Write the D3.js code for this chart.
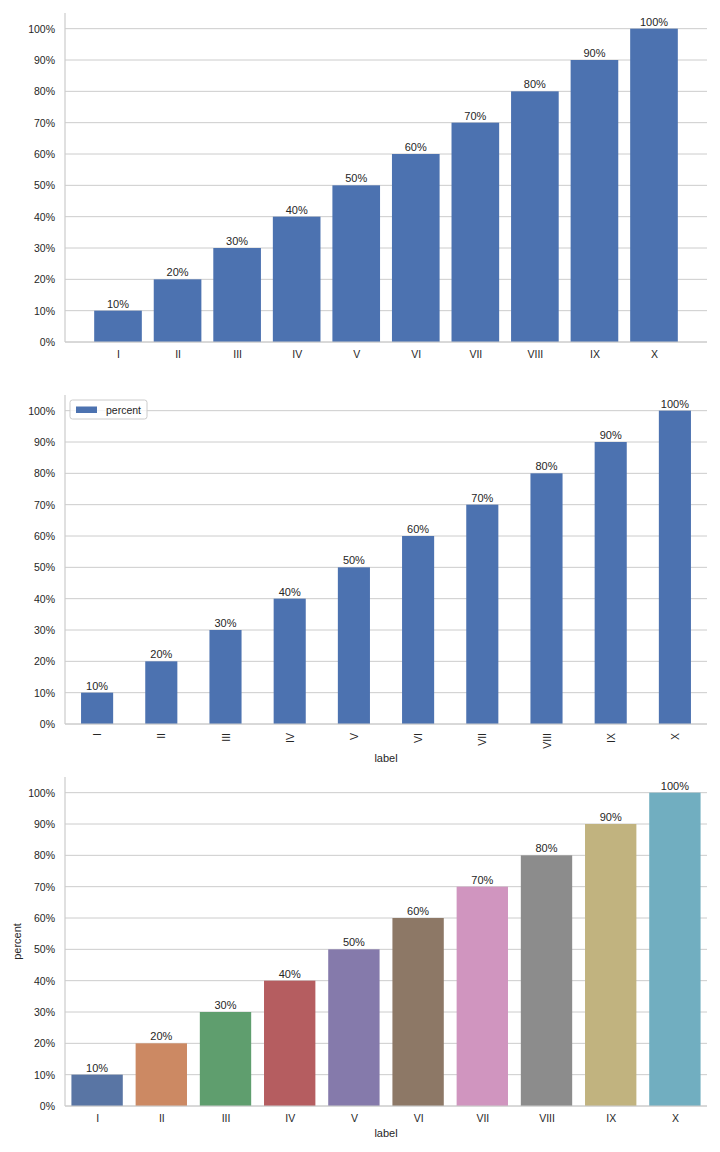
<!DOCTYPE html>
<html><head><meta charset="utf-8">
<script src="https://cdn.jsdelivr.net/npm/d3@7/dist/d3.min.js"></script>
<style>body{margin:0;background:#fff}svg{display:block}text{font-family:"Liberation Sans",Arial,sans-serif;fill:#262626}</style>
</head><body>
<script>
const labels = ["I","II","III","IV","V","VI","VII","VIII","IX","X"];
const percent = [10,20,30,40,50,60,70,80,90,100];
const yTicks = [0,10,20,30,40,50,60,70,80,90,100];
const barColor = "#4C72B0";
const palette = ["#5975a4","#cc8963","#5f9e6e","#b55d60","#857aab","#8d7866","#d095bf","#8c8c8c","#c1b37f","#71aec0"];

const W = 720, H = 1152;
const svg = d3.select("body").append("svg").attr("width", W).attr("height", H);
const left = 65, right = 707;
const panels = [
  {top: 13, bottom: 342, kind: "mpl"},
  {top: 395, bottom: 724, kind: "pandas"},
  {top: 777, bottom: 1106, kind: "sns"}
];

panels.forEach(p => {
  const g = svg.append("g");
  const y = d3.scaleLinear().domain([0,105]).range([p.bottom, p.top]);
  let x, bw;
  if (p.kind === "mpl") {
    x = d3.scaleLinear().domain([-0.89, 9.89]).range([left, right]);
    bw = x(0.8) - x(0);
  } else {
    x = d3.scaleLinear().domain([-0.5, 9.5]).range([left, right]);
    bw = (x(1) - x(0)) * (p.kind === "pandas" ? 0.5 : 0.8);
  }
  // grid
  g.selectAll(".grid").data(yTicks).join("line")
    .attr("x1", left).attr("x2", right)
    .attr("y1", d => y(d)).attr("y2", d => y(d))
    .attr("stroke", "#cccccc").attr("stroke-width", 1);
  // y tick labels
  const yAxis = d3.axisLeft(y).tickValues(yTicks).tickFormat(d => d + "%").tickSize(0).tickPadding(10);
  const ya = g.append("g").attr("transform", `translate(${left},0)`).call(yAxis);
  ya.select(".domain").remove();
  ya.selectAll("text").style("font-size", "10.5px").attr("fill", "#262626").style("font-family", '"Liberation Sans",Arial,sans-serif');
  // bars
  g.selectAll(".bar").data(percent).join("rect")
    .attr("x", (d,i) => x(i) - bw/2).attr("width", bw)
    .attr("y", d => y(d)).attr("height", d => p.bottom - y(d))
    .attr("fill", (d,i) => p.kind === "sns" ? palette[i] : barColor);
  // bar labels
  g.selectAll(".bl").data(percent).join("text")
    .attr("x", (d,i) => x(i)).attr("y", d => y(d) - 3)
    .attr("text-anchor", "middle").style("font-size", "11px")
    .text(d => d + "%");
  // spines
  g.append("line").attr("x1", left).attr("x2", left).attr("y1", p.top).attr("y2", p.bottom).attr("stroke", "#cccccc").attr("stroke-width", 1.2);
  g.append("line").attr("x1", left).attr("x2", right).attr("y1", p.bottom).attr("y2", p.bottom).attr("stroke", "#cccccc").attr("stroke-width", 1.2);
  // x tick labels
  const xAxis = d3.axisBottom(x).tickValues(d3.range(labels.length)).tickFormat(i => labels[i]).tickSize(0);
  const xa = g.append("g").attr("transform", `translate(0,${p.bottom})`).call(xAxis);
  xa.select(".domain").remove();
  xa.selectAll("text").style("font-size", "10.5px").attr("fill", "#262626").style("font-family", '"Liberation Sans",Arial,sans-serif');
  if (p.kind === "pandas") {
    xa.selectAll("text")
      .attr("transform", "rotate(-90)")
      .attr("text-anchor", "end")
      .attr("x", -9).attr("y", 0).attr("dy", "0.35em");
  } else {
    xa.selectAll("text").attr("y", 9);
  }
  if (p.kind !== "mpl") {
    g.append("text").attr("x", (left + right)/2).attr("y", p.kind === "pandas" ? p.bottom + 38 : p.bottom + 31)
      .attr("text-anchor", "middle").style("font-size", "11px").text("label");
  }
  if (p.kind === "sns") {
    g.append("text").attr("transform", `translate(21,${(p.top + p.bottom)/2}) rotate(-90)`)
      .attr("text-anchor", "middle").style("font-size", "11px").text("percent");
  }
  if (p.kind === "pandas") {
    const lg = g.append("g").attr("transform", `translate(70,${p.top + 5})`);
    lg.append("rect").attr("width", 77).attr("height", 19).attr("rx", 2.5)
      .attr("fill", "#fff").attr("fill-opacity", 0.8).attr("stroke", "#cccccc");
    lg.append("rect").attr("x", 6).attr("y", 6.5).attr("width", 21).attr("height", 6.5).attr("fill", barColor);
    lg.append("text").attr("x", 36).attr("y", 13.5).style("font-size", "10.5px").text("percent");
  }
});
</script>
</body></html>
